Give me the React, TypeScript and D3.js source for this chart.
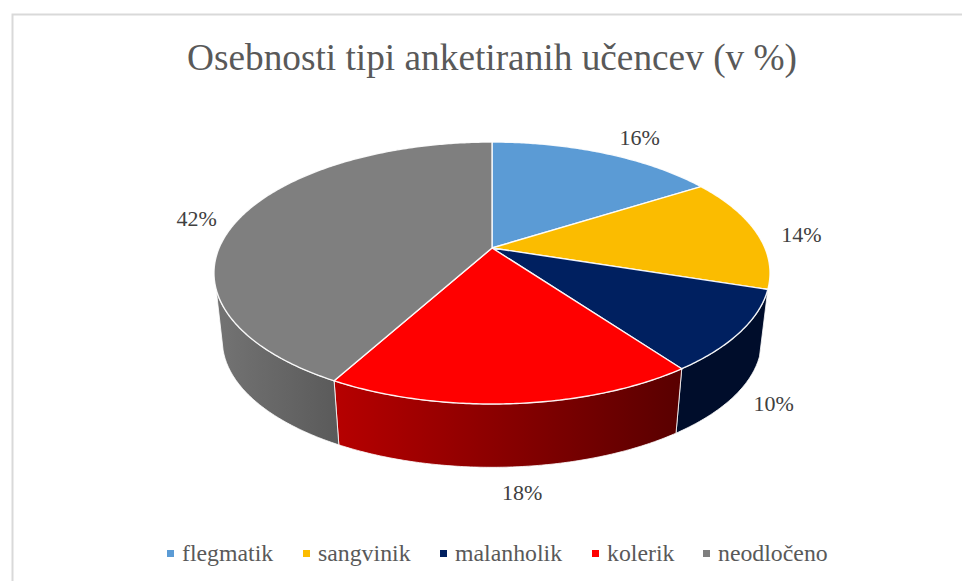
import React from 'react';
import * as d3 from 'd3';

const categories = ['flegmatik', 'sangvinik', 'malanholik', 'kolerik', 'neodločeno'];
const shares = [16, 14, 10, 18, 42];
const topColors = ['#5b9bd5', '#fbbc00', '#002060', '#ff0000', '#7f7f7f'];
// side wall gradient, left to right
const sideColors = [
  ['#35597a', '#35597a'],
  ['#8a6a00', '#8a6a00'],
  ['#000d2b', '#000d2b'],
  ['#b50000', '#5a0000'],
  ['#727272', '#5a5a5a'],
];

const legendLeft = [167, 303, 440, 592, 703];
// nudge of each % label from the rim point at the middle of its slice
const labelNudge = [[35, -16], [45, 2], [33, 72], [9, 89], [-43, 0]];

const width = 962;
const height = 581;
const cx = 492;
const cy = 248;
// perspective of the disc: near rim is bigger than far rim
const persp = 0.191;
const radiusX = 272.9;
const radiusY = 126.2;
const wallDrop = 68;
const wallScale = 0.97;
const rad = Math.PI / 180;
// where the wall leaves the top rim and the bottom rim (silhouette)
const wallTop = [108 * rad, 252 * rad];
const wallBase = [105 * rad, 255 * rad];
const serif = '"Liberation Serif", "Times New Roman", serif';

function rim(angle: number): [number, number] {
  const u = Math.sin(angle);
  const v = -Math.cos(angle);
  const w = 1 - persp * v;
  return [cx + (radiusX * u) / w, cy + (radiusY * v) / w];
}

function baseRim(angle: number): [number, number] {
  const [x, y] = rim(angle);
  return [cx + (x - cx) * wallScale, cy + wallDrop + (y - cy) * wallScale];
}

const line = d3.line();

function arcPoints(a0: number, a1: number, fn: (a: number) => [number, number]) {
  const n = Math.max(2, Math.ceil((a1 - a0) / 0.01));
  return d3.range(n + 1).map((i) => fn(a0 + ((a1 - a0) * i) / n));
}

export default function App() {
  const slices = d3.pie<number>().sort(null)(shares);
  const color = d3.scaleOrdinal<string, string>().domain(categories).range(topColors);

  const walls = slices
    .map((s, i) => ({ s, i }))
    .filter(({ s }) => s.endAngle > wallTop[0] + 0.001 && s.startAngle < wallTop[1]);

  return (
    <svg
      width={width}
      height={height}
      style={{ position: 'absolute', left: 0, top: 0, background: '#fff' }}
    >
      <defs>
        {walls.map(({ s, i }) => {
          const xs = arcPoints(
            Math.max(s.startAngle, wallBase[0]),
            Math.min(s.endAngle, wallBase[1]),
            baseRim
          ).map((p) => p[0]);
          return (
            <linearGradient
              key={i}
              id={'wall' + i}
              gradientUnits="userSpaceOnUse"
              x1={d3.min(xs)}
              x2={d3.max(xs)}
              y1={0}
              y2={0}
            >
              <stop offset="0" stopColor={sideColors[i][0]} />
              <stop offset="1" stopColor={sideColors[i][1]} />
            </linearGradient>
          );
        })}
      </defs>

      <rect x={12.5} y={14.5} width={width + 20} height={height + 20} fill="#fff" stroke="#d9d9d9" strokeWidth={2} />

      <text x={492} y={70} textAnchor="middle" fontFamily={serif} fontSize={37.3} fill="#595959">
        Osebnosti tipi anketiranih učencev (v %)
      </text>

      {walls.map(({ s, i }) => {
        const pts = [
          ...arcPoints(Math.max(s.startAngle, wallTop[0]), Math.min(s.endAngle, wallTop[1]), rim),
          ...arcPoints(Math.max(s.startAngle, wallBase[0]), Math.min(s.endAngle, wallBase[1]), baseRim).reverse(),
        ];
        return (
          <path
            key={i}
            d={line(pts) + 'Z'}
            fill={`url(#wall${i})`}
            stroke="#fff"
            strokeWidth={1}
            strokeOpacity={0.8}
          />
        );
      })}

      {slices.map((s, i) => {
        const pts = [[cx, cy] as [number, number], ...arcPoints(s.startAngle, s.endAngle, rim)];
        return (
          <path
            key={i}
            d={line(pts) + 'Z'}
            fill={color(categories[i])}
            stroke="#fff"
            strokeWidth={1.4}
            strokeOpacity={0.9}
          />
        );
      })}

      {slices.map((s, i) => {
        const [x, y] = rim((s.startAngle + s.endAngle) / 2);
        return (
          <text
            key={i}
            x={x + labelNudge[i][0]}
            y={y + labelNudge[i][1]}
            dy="0.35em"
            textAnchor="middle"
            fontFamily={serif}
            fontSize={22}
            fill="#404040"
          >
            {shares[i]}%
          </text>
        );
      })}

      {categories.map((c, i) => (
        <g key={c}>
          <rect x={legendLeft[i]} y={550} width={7} height={7} fill={color(c)} />
          <text x={legendLeft[i] + 15} y={561} fontFamily={serif} fontSize={23.8} fill="#595959">
            {c}
          </text>
        </g>
      ))}
    </svg>
  );
}
